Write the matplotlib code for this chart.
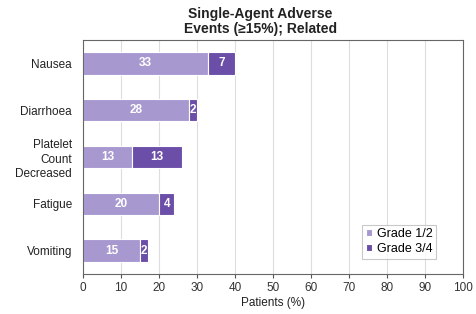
import matplotlib
matplotlib.use("Agg")
import matplotlib.pyplot as plt

plt.rcParams['font.family'] = ['Liberation Sans', 'DejaVu Sans']

categories = ["Nausea", "Diarrhoea", "Platelet\nCount\nDecreased", "Fatigue", "Vomiting"]
grade12 = [33, 28, 13, 20, 15]
grade34 = [7, 2, 13, 4, 2]
xticks = [0, 10, 20, 30, 40, 50, 60, 70, 80, 90, 100]

c_light = "#a898d0"
c_dark = "#6a4ea8"

fig = plt.figure(figsize=(4.77, 3.14), dpi=100)
ax = fig.add_axes([0.174, 0.127, 0.797, 0.746])

y = list(range(len(categories)))
h = 0.48
ax.barh(y, grade12, height=h, color=c_light, edgecolor="white", linewidth=0.8, label="Grade 1/2", zorder=3)
ax.barh(y, grade34, left=grade12, height=h, color=c_dark, edgecolor="white", linewidth=0.8, label="Grade 3/4", zorder=3)

for yi, a, b in zip(y, grade12, grade34):
    ax.text(a / 2, yi, str(a), ha="center", va="center", color="white", fontsize=8.5, fontweight="bold", zorder=4)
    ax.text(a + b / 2, yi, str(b), ha="center", va="center", color="white", fontsize=8.5, fontweight="bold", zorder=4)

ax.set_xlim(0, 100)
ax.set_ylim(len(categories) - 0.5, -0.5)
ax.set_xticks(xticks)
ax.set_xticklabels([str(t) for t in xticks], fontsize=8.5, color="#333333")
ax.set_yticks(y)
ax.set_yticklabels(categories, fontsize=8.5, color="#222222", linespacing=1.25)
ax.tick_params(axis="y", length=0, pad=8)
ax.tick_params(axis="x", length=3, color="#555555", pad=3)
ax.grid(axis="x", color="#dddddd", linewidth=0.8, zorder=0)
for s in ax.spines.values():
    s.set_color("#666666")
    s.set_linewidth(0.8)
    s.set_zorder(5)

ax.set_xlabel("Patients (%)", fontsize=8.5, color="#222222", labelpad=2)
ax.set_title("Single-Agent Adverse\nEvents (\u226515%); Related", fontsize=10, fontweight="bold", color="#222222",
             pad=5, linespacing=1.1, x=0.466)

leg = ax.legend(loc="lower right", bbox_to_anchor=(0.945, 0.04), fontsize=9, frameon=True, fancybox=False,
                handlelength=0.45, handleheight=0.45, handletextpad=0.4, borderpad=0.3, labelspacing=0.2)
leg.get_frame().set_edgecolor("#bbbbbb")
leg.get_frame().set_linewidth(0.8)

fig.savefig("out.png", dpi=100)
